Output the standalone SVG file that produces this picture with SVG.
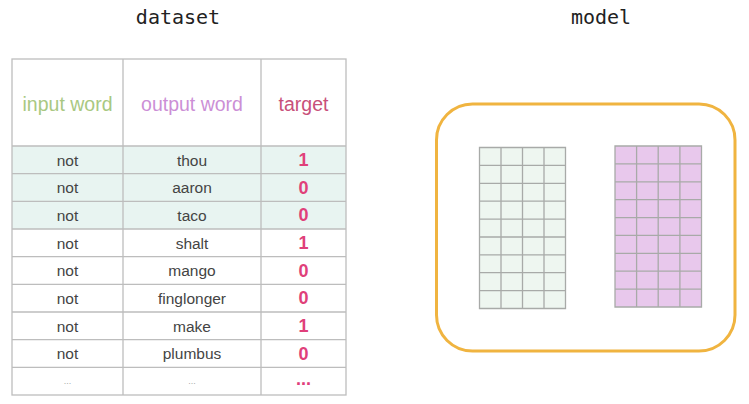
<svg xmlns="http://www.w3.org/2000/svg" width="749" height="404" viewBox="0 0 749 404">
<defs>
<style>
.title{font-family:"DejaVu Sans Mono",monospace;font-size:20px;fill:#222;text-anchor:middle}
.hdr{font-family:"Liberation Sans",Arial,sans-serif;font-size:19.5px;text-anchor:middle;dominant-baseline:central}
.cell{font-family:"Liberation Sans",Arial,sans-serif;font-size:15.5px;fill:#444;text-anchor:middle;dominant-baseline:central}
.tgt{font-family:"Liberation Sans",Arial,sans-serif;font-size:18px;font-weight:bold;fill:#e0407a;text-anchor:middle;dominant-baseline:central}
.grid{stroke:#bdbdbd;stroke-width:1.3;fill:none}
.mgrid{stroke:#a8aaa8;stroke-width:1.3;fill:none}
</style>
</defs>
<rect width="749" height="404" fill="#ffffff"/>
<text class="title" x="178" y="24">dataset</text>
<text class="title" x="601" y="24">model</text>

<g id="table">
<rect x="12" y="146" width="334" height="83" fill="#e8f4f1"/>
<rect class="grid" x="12" y="59" width="334" height="336"/>
<path class="grid" d="M123 59V395M261 59V395M12 146H346M12 173.7H346M12 201.3H346M12 229H346M12 256.7H346M12 284.3H346M12 312H346M12 339.7H346M12 367.3H346"/>
<text class="hdr" x="67.5" y="104" fill="#a9c882">input word</text>
<text class="hdr" x="192" y="104" fill="#cc8fd6">output word</text>
<text class="hdr" x="303.5" y="104" fill="#c8507a">target</text>
<g>
<text class="cell" x="67.5" y="160">not</text><text class="cell" x="192" y="160">thou</text><text class="tgt" x="303.5" y="160">1</text>
<text class="cell" x="67.5" y="187.5">not</text><text class="cell" x="192" y="187.5">aaron</text><text class="tgt" x="303.5" y="187.5">0</text>
<text class="cell" x="67.5" y="215">not</text><text class="cell" x="192" y="215">taco</text><text class="tgt" x="303.5" y="215">0</text>
<text class="cell" x="67.5" y="243">not</text><text class="cell" x="192" y="243">shalt</text><text class="tgt" x="303.5" y="243">1</text>
<text class="cell" x="67.5" y="270.5">not</text><text class="cell" x="192" y="270.5">mango</text><text class="tgt" x="303.5" y="270.5">0</text>
<text class="cell" x="67.5" y="298">not</text><text class="cell" x="192" y="298">finglonger</text><text class="tgt" x="303.5" y="298">0</text>
<text class="cell" x="67.5" y="326">not</text><text class="cell" x="192" y="326">make</text><text class="tgt" x="303.5" y="326">1</text>
<text class="cell" x="67.5" y="353.5">not</text><text class="cell" x="192" y="353.5">plumbus</text><text class="tgt" x="303.5" y="353.5">0</text>
<text class="cell" x="67.5" y="381" style="font-size:9px;fill:#aaa">...</text><text class="cell" x="192" y="381" style="font-size:9px;fill:#aaa">...</text><text class="tgt" x="303.5" y="379">...</text>
</g>
</g>

<g id="model">
<rect x="436.5" y="104" width="298.5" height="247" rx="36" ry="36" fill="#fff" stroke="#f0b440" stroke-width="3"/>
</g>

<g id="embedding">
<rect x="479.5" y="147.5" width="86" height="161" fill="#eef6f0"/>
<path class="mgrid" d="M479.5 147.5h86v161h-86zM501 147.5V308.5M522.5 147.5V308.5M544 147.5V308.5M479.5 165.4H565.5M479.5 183.3H565.5M479.5 201.2H565.5M479.5 219.1H565.5M479.5 237H565.5M479.5 254.8H565.5M479.5 272.7H565.5M479.5 290.6H565.5"/>
</g>

<g id="context">
<rect x="615" y="146" width="86.5" height="161" fill="#e8c8ec"/>
<path class="mgrid" d="M615 146h86.5v161h-86.5zM636.6 146V307M658.2 146V307M679.9 146V307M615 163.9H701.5M615 181.8H701.5M615 199.7H701.5M615 217.6H701.5M615 235.4H701.5M615 253.3H701.5M615 271.2H701.5M615 289.1H701.5"/>
</g>
<g id="connectors"/>
</svg>
